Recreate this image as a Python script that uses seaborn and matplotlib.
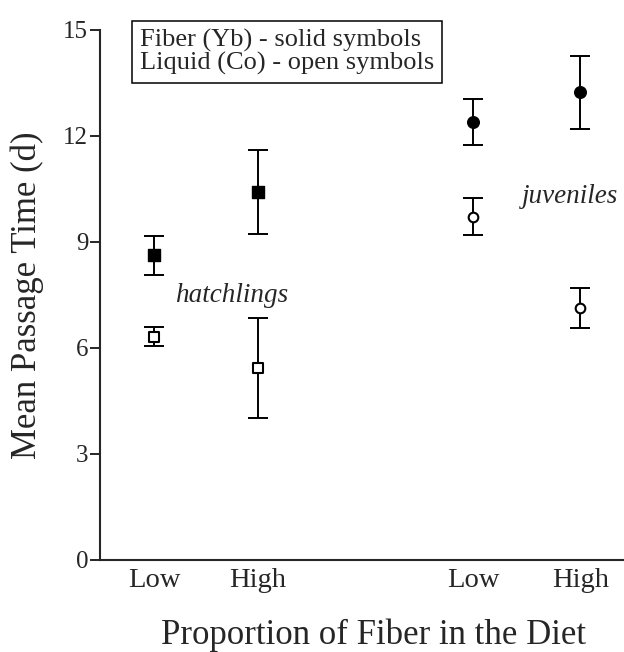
import matplotlib
matplotlib.use("Agg")
import matplotlib.pyplot as plt
import seaborn as sns
import pandas as pd

# ---- data ----
groups = ["hatchlings", "hatchlings", "juveniles", "juveniles"]
fiber_levels = ["Low", "High", "Low", "High"]
fiber_mean = [8.62, 10.41, 12.39, 13.24]
fiber_err = [0.55, 1.18, 0.65, 1.03]
liquid_mean = [6.32, 5.44, 9.72, 7.14]
liquid_err = [0.27, 1.42, 0.52, 0.57]
yticks = [0, 3, 6, 9, 12, 15]

# ---- layout ----
xpos = [1.0, 2.0, 4.07, 5.1]

sns.set_style("ticks")
plt.rcParams["font.family"] = ["Liberation Serif", "DejaVu Serif"]

W, H = 624, 652
fig = plt.figure(figsize=(W / 100, H / 100), dpi=100)
ax = fig.add_axes([100 / W, 1 - 560 / H, 1 - 100 / W, (560 - 30) / H])

df = pd.DataFrame({
    "x": xpos, "group": groups, "level": fiber_levels,
    "fiber": fiber_mean, "fiber_err": fiber_err,
    "liquid": liquid_mean, "liquid_err": liquid_err,
})

ebkw = dict(fmt="none", ecolor="black", elinewidth=1.4, capsize=7, capthick=1.4, zorder=2)
ax.errorbar(df["x"], df["fiber"], yerr=df["fiber_err"], **ebkw)
ax.errorbar(df["x"], df["liquid"], yerr=df["liquid_err"], **ebkw)

marker_map = {"hatchlings": "s", "juveniles": "o"}
for g, m in marker_map.items():
    sub = df[df["group"] == g]
    sns.scatterplot(data=sub, x="x", y="fiber", marker=m, s=70, color="black",
                    edgecolor="black", linewidth=1.0, ax=ax, zorder=3, legend=False)
    sns.scatterplot(data=sub, x="x", y="liquid", marker=m, s=48, color="white",
                    edgecolor="black", linewidth=1.5, ax=ax, zorder=3, legend=False)

ax.set_xlim(0.48, 5.52)
ax.set_ylim(0, 15)
ax.set_yticks(yticks)
ax.set_yticklabels([str(t) for t in yticks], fontsize=18)
ax.set_xticks(xpos)
ax.set_xticklabels(fiber_levels, fontsize=20.5)
ax.tick_params(axis="x", length=0, pad=6)
ax.tick_params(axis="y", length=7, width=1.4, pad=1.5, direction="out")
for s in ["top", "right"]:
    ax.spines[s].set_visible(False)
for s in ["left", "bottom"]:
    ax.spines[s].set_linewidth(1.5)

ax.set_xlabel("")
ax.set_ylabel("Mean Passage Time (d)", fontsize=25, labelpad=14)
fig.text(374 / W, 1 - 644 / H, "Proportion of Fiber in the Diet",
         fontsize=25, ha="center", va="baseline")

ax.text(1.75, 7.5, "hatchlings", fontsize=19.5, style="italic", ha="center", va="center")
ax.text(5.0, 10.3, "juveniles", fontsize=19.5, style="italic", ha="center", va="center")

fig.text(140 / W, 1 - 52 / H,
         "Fiber (Yb) - solid symbols\nLiquid (Co) - open symbols",
         fontsize=19, ha="left", va="center", linespacing=1.0,
         bbox=dict(boxstyle="square,pad=0.3", facecolor="white", edgecolor="black", linewidth=1.1))

fig.savefig("out.png", dpi=100)
